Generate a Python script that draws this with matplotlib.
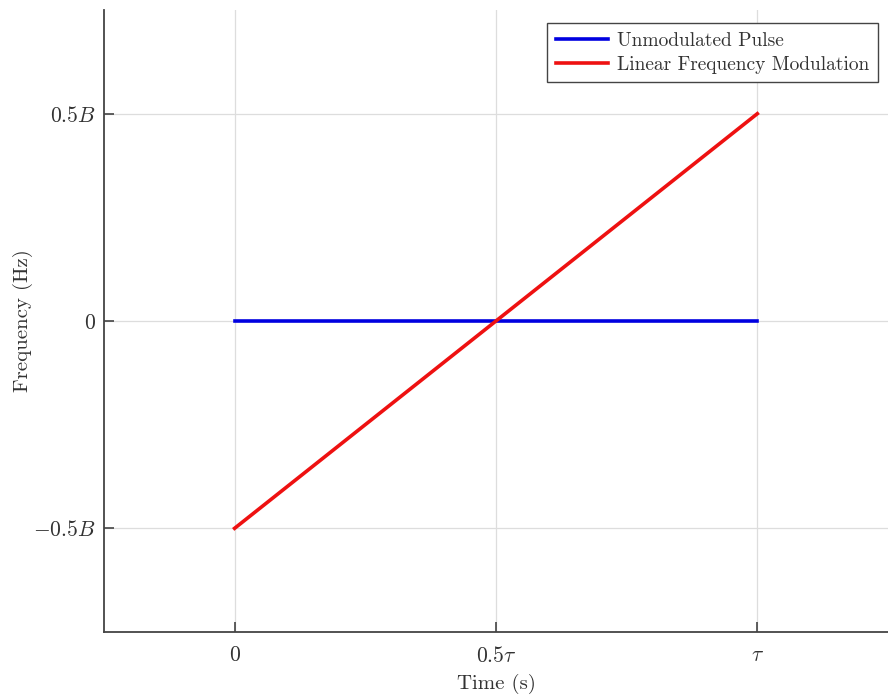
import matplotlib
matplotlib.use('Agg')
import matplotlib.pyplot as plt
import numpy as np

# data (time in units of tau, frequency in units of B)
t = [0.0, 0.5, 1.0]
f_unmod = [0.0, 0.0, 0.0]
f_lfm = [-0.5, 0.0, 0.5]

xticks = [0.0, 0.5, 1.0]
xtick_labels = ['$0$', r'$0.5\tau$', r'$\tau$']
yticks = [-0.5, 0.0, 0.5]
ytick_labels = ['$-0.5B$', '$0$', '$0.5B$']

plt.rcParams['mathtext.fontset'] = 'cm'
plt.rcParams['font.family'] = 'serif'
plt.rcParams['font.serif'] = ['cmr10', 'DejaVu Serif']
plt.rcParams['axes.unicode_minus'] = False

txt = '#333333'
fig = plt.figure(figsize=(8.88, 6.98), dpi=100)
ax = fig.add_axes([0.117, 0.0946, 0.883, 0.891])

ax.plot(t, f_unmod, color='#0000e0', lw=2.6, label='Unmodulated Pulse')
ax.plot(t, f_lfm, color='#ee1111', lw=2.6, label='Linear Frequency Modulation')

ax.set_xlim(-0.25, 1.25)
ax.set_ylim(-0.75, 0.75)
ax.set_xticks(xticks)
ax.set_xticklabels(xtick_labels, fontsize=15.5, color=txt)
ax.set_yticks(yticks)
ax.set_yticklabels(ytick_labels, fontsize=15.5, color=txt)
ax.tick_params(direction='in', length=7, width=1.2, color='#444444')
ax.tick_params(axis='x', pad=10)
ax.tick_params(axis='y', pad=6)
ax.grid(True, color='#dddddd', lw=0.9)
ax.set_axisbelow(True)

for pos in ['top', 'right']:
    ax.spines[pos].set_visible(False)
for pos in ['left', 'bottom']:
    ax.spines[pos].set_color('#444444')
    ax.spines[pos].set_linewidth(1.3)

ax.set_xlabel('Time (s)', fontsize=15, color=txt, labelpad=6)
ax.set_ylabel('Frequency (Hz)', fontsize=15, color=txt)
ax.yaxis.set_label_coords(-0.091, 0.5)

leg = ax.legend(loc='upper right', bbox_to_anchor=(0.987, 0.979), fontsize=14,
                fancybox=False, edgecolor='#444444', framealpha=1,
                handlelength=2.7, handletextpad=0.45, borderpad=0.45,
                labelspacing=0.3, borderaxespad=0)
leg.get_frame().set_linewidth(1.0)
for text in leg.get_texts():
    text.set_color(txt)

plt.savefig('out.png', dpi=100)
plt.close(fig)
